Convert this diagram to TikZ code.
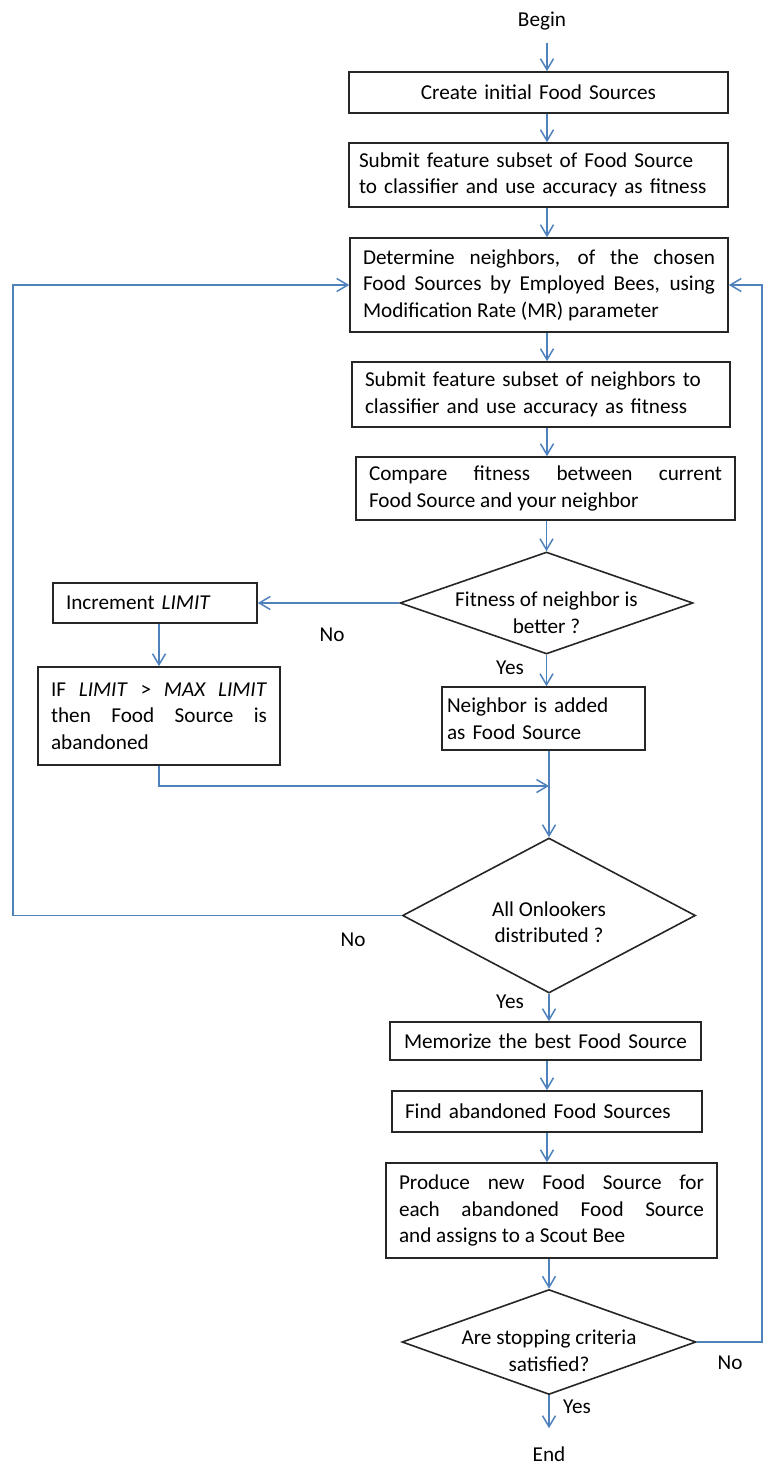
\documentclass[tikz,border=0pt]{standalone}
\usepackage{fontspec}
\setmainfont{Carlito}
\usetikzlibrary{shapes.geometric,arrows.meta}
\definecolor{flowblue}{RGB}{79,129,189}
\newcommand{\lowtext}[1]{\rule{0pt}{#1}}

\begin{document}
\begin{tikzpicture}[x=0.5pt,y=-0.5pt,
font=\fontsize{10.6}{13.3}\selectfont,
box/.style={draw=black!85,line width=0.8pt,inner xsep=6.5pt,inner ysep=0pt},
dec/.style={diamond,draw=black!85,line width=0.8pt,inner xsep=-8pt,inner ysep=-4pt,aspect=3,align=center},
term/.style={inner xsep=2pt,inner ysep=6pt},
lbl/.style={inner sep=1pt},
arr/.style={draw=flowblue,line width=0.75pt,-{Straight Barb[length=5.5pt,width=6.5pt]}}]
\useasboundingbox (0,0) rectangle (764,1465);

%main column
\node[term] (begin) at (542,21) {Begin};
\node[box,text width=176.5pt,minimum height=20.5pt,align=center] (init) at (538.5,92.5) {Create initial Food Sources};
\node[box,inner xsep=5pt,text width=179.5pt,minimum height=32pt,align=left] (subfs) at (538.5,175) {Submit feature subset of Food Source\\to classifier and use accuracy as fitness};
\node[box,text width=176pt,minimum height=47pt,align=justify] (neigh) at (539,285) {Determine neighbors, of the chosen\linebreak Food Sources by Employed Bees, using\linebreak Modification Rate (MR) parameter};
\node[box,text width=176pt,minimum height=32.5pt,align=left] (subnb) at (541,394.5) {Submit feature subset of neighbors to\\classifier and use accuracy as fitness};
\node[box,text width=176.5pt,minimum height=31.5pt,align=justify] (cmp) at (545.5,488.5) {Compare fitness between current\linebreak Food Source and your neighbor};
\node[dec,minimum width=146.5pt,minimum height=51pt] (fit) at (546.5,603) {\lowtext{17pt}Fitness of neighbor is\\better ?};
\node[box,inner xsep=2.5pt,text width=96.5pt,minimum height=31.5pt,align=left] (nadd) at (543.5,718.5) {Neighbor is added\\as Food Source};
\node[dec,minimum width=146.5pt,minimum height=77.5pt] (onl) at (549,915.5) {\lowtext{14pt}All Onlookers\\distributed ?};
\node[box,inner xsep=4.5pt,text width=146.5pt,minimum height=19pt,align=center] (mem) at (545.5,1041) {Memorize the best Food Source};
\node[box,text width=142pt,minimum height=20.5pt,align=left] (find) at (547,1111.5) {Find abandoned Food Sources};
\node[box,text width=152.5pt,minimum height=47.5pt,align=justify] (prod) at (551.5,1210.5) {Produce new Food Source for\linebreak each abandoned Food Source\linebreak and assigns to a Scout Bee};
\node[dec,minimum width=147pt,minimum height=52.5pt] (stop) at (549,1342) {\lowtext{16pt}Are stopping criteria\\satisfied?};
\node[term] (endn) at (549,1454) {End};

%limit branch
\node[box,text width=89pt,minimum height=20pt,align=left] (incr) at (155,603) {Increment \textit{LIMIT}};
\node[box,text width=108pt,minimum height=49pt,align=justify] (ifb) at (159,716) {IF \textit{LIMIT} > \textit{MAX LIMIT}\linebreak then Food Source is\linebreak abandoned};

%answers
\node[lbl] (no1) at (332,635) {No};
\node[lbl] (yes1) at (510,668) {Yes};
\node[lbl] (no2) at (353,940) {No};
\node[lbl] (yes2) at (510,1002) {Yes};
\node[lbl] (no3) at (730,1363) {No};
\node[lbl] (yes3) at (577,1407) {Yes};

\coordinate (spine) at (547,0);
\coordinate (lft) at (13,285);
\coordinate (rgt) at (762,285);
\coordinate (join) at (549,786);

%connectors
\draw[arr] (begin.south -| spine) -- (init.north -| spine);
\foreach \a/\b in {init/subfs,subfs/neigh,neigh/subnb,subnb/cmp,mem/find,find/prod}
  \draw[arr] (\a.south -| spine) -- (\b.north -| spine);
\draw[arr] (cmp.south -| fit.north) -- (fit.north);
\draw[arr] (fit.south) -- (fit.south |- nadd.north);
\draw[arr] (fit.west) -- (incr.east);
\draw[arr] (incr.south -| ifb.north) -- (ifb.north);
\draw[arr] (ifb.south) |- (join);
\draw[arr] (nadd.south -| onl.north) -- (onl.north);
\draw[arr] (onl.south) -- (onl.south |- mem.north);
\draw[arr] (onl.west) -| (lft) -- (neigh.west);
\draw[arr] (prod.south -| stop.north) -- (stop.north);
\draw[arr] (stop.east) -| (rgt) -- (neigh.east);
\draw[arr,shorten >=3pt] (stop.south) -- (endn.north);
\end{tikzpicture}
\end{document}
